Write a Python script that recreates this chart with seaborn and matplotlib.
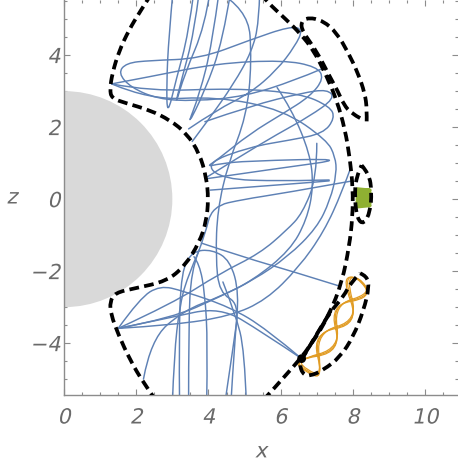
import matplotlib
matplotlib.use("Agg")
import matplotlib.pyplot as plt
import seaborn as sns
from matplotlib.path import Path
from matplotlib.patches import PathPatch, Circle
from matplotlib.patheffects import AbstractPathEffect
from matplotlib.transforms import Affine2D

# ---------------- data ----------------
earth_radius = 3.0

# zero-velocity boundaries (x, z)
inner_wall = [(2.42, 5.7), (2.1, 5.2), (1.8, 4.7), (1.52, 4.1), (1.34, 3.5), (1.27, 3.05),
              (1.32, 2.8), (1.7, 2.67), (2.38, 2.47), (2.94, 2.19), (3.40, 1.82), (3.75, 1.27),
              (3.94, 0.62), (4.0, 0.0), (3.94, -0.62), (3.75, -1.2), (3.35, -1.85), (2.84, -2.28),
              (1.95, -2.48), (1.42, -2.6), (1.27, -2.85), (1.3, -3.2), (1.5, -3.75), (1.83, -4.47),
              (2.2, -5.1), (2.55, -5.6)]
outer_wall = [(5.45, 5.7), (5.6, 5.5), (6.17, 4.97), (6.54, 4.6), (6.91, 4.14), (7.28, 3.40),
              (7.55, 2.75), (7.78, 1.95), (7.92, 1.1), (8.0, 0.3), (7.99, -0.5), (7.9, -1.3),
              (7.7, -2.3), (7.35, -3.2), (6.85, -4.05), (6.2, -4.84), (5.5, -5.6)]
upper_pocket = [(8.2, 2.25), (7.96, 2.38), (7.75, 2.62), (7.58, 3.0), (7.36, 3.4), (7.0, 4.1),
                (6.6, 4.66), (6.56, 4.92), (6.77, 5.05), (7.18, 4.95), (7.55, 4.62), (7.87, 4.07),
                (8.14, 3.5), (8.33, 2.94), (8.39, 2.5), (8.38, 2.1)]
lower_pocket = [(8.2, -2.06), (8.39, -2.14), (8.45, -2.44), (8.3, -3.08), (8.01, -3.82),
                (7.65, -4.38), (7.18, -4.75), (6.8, -4.92), (6.6, -4.85), (6.52, -4.56),
                (6.6, -4.42), (7.0, -3.75), (7.38, -3.12), (7.74, -2.71), (7.95, -2.3), (8.2, -2.06)]
equator_pocket = [(8.24, 0.94), (8.45, 0.7), (8.52, 0.2), (8.48, -0.35), (8.3, -0.7),
                  (8.12, -0.55), (8.05, 0.0), (8.08, 0.6), (8.24, 0.94)]
contact_x = [6.6, 7.38]
contact_z = [-4.42, -3.12]
start_x = [6.58]
start_z = [-4.43]

# trapped (blue) orbit, drawn as smooth strokes
blue_1 = [(3.02, 5.8), (2.9, 4.5), (2.84, 3.2), (2.86, 2.3), (3.1, 3.3), (3.45, 4.6), (3.6, 5.8)]
blue_2 = [(4.3, 5.8), (4.1, 4.3), (3.75, 2.9), (3.38, 1.95), (3.9, 3.0), (4.4, 4.4), (4.62, 5.8)]
blue_3 = [(3.75, 5.8), (3.6, 4.6), (3.25, 3.3), (3.05, 2.5), (3.35, 3.5), (3.9, 4.8), (4.05, 5.8)]
blue_4 = [(4.2, 5.8), (5.1, 5.3), (5.2, 3.8), (5.05, 2.3), (4.55, 1.0), (4.25, -0.3), (4.2, -1.6),
          (4.3, -2.6), (4.85, -2.9), (4.7, -4.0), (4.45, -5.7)]
blue_5 = [(3.45, 1.95), (4.23, 2.48), (5.15, 2.94), (5.89, 3.58), (6.4, 4.25), (6.62, 4.72),
          (6.26, 4.8), (5.15, 4.42), (3.77, 3.9), (2.38, 3.85), (1.72, 3.78), (1.5, 3.5),
          (1.85, 3.1), (2.6, 2.78), (3.6, 2.72), (5.0, 2.85), (6.4, 3.3), (7.1, 3.6)]
blue_6 = [(1.32, 3.2), (2.38, 3.4), (4.23, 3.77), (6.07, 3.86), (7.0, 3.68), (7.2, 3.35),
          (6.81, 2.85), (6.07, 2.38), (5.15, 1.82), (4.23, 1.08), (3.95, 0.9), (4.3, 0.98),
          (5.06, 1.06), (7.95, 1.13), (5.9, 0.85), (3.97, 0.57)]
blue_7 = [(1.32, 3.2), (2.38, 2.99), (4.69, 3.08), (6.54, 2.94), (7.37, 2.57), (7.5, 2.25),
          (7.18, 1.82), (6.26, 1.64), (5.15, 1.45), (3.9, 0.99), (4.4, 0.55), (6.0, 0.5),
          (7.95, 0.55), (6.0, 0.4), (4.05, 0.25)]
blue_8 = [(1.32, 3.2), (2.38, 2.75), (4.23, 2.85), (6.07, 2.48), (7.28, 1.64), (7.51, 1.18),
          (7.55, 0.72), (7.37, -0.03), (7.0, -0.8), (6.2, -1.6), (5.24, -2.25), (4.32, -2.71),
          (3.3, -3.1), (2.4, -3.9), (2.2, -5.0)]
blue_9 = [(5.9, 3.1), (6.3, 2.5), (6.81, 1.27), (6.91, 0.34), (6.72, -0.58), (6.26, -1.42),
          (5.24, -2.25), (4.32, -2.71), (3.0, -3.3), (1.5, -3.59)]
blue_10 = [(7.0, 1.55), (7.0, 0.6), (6.6, -0.4), (6.17, -0.86), (5.42, -1.51), (4.32, -2.06),
           (3.0, -2.9), (1.5, -3.59)]
blue_11 = [(3.97, 0.62), (4.9, 1.2), (5.9, 1.8), (6.8, 2.3), (7.5, 2.8), (7.3, 3.05), (6.6, 2.95),
           (5.2, 2.6), (3.9, 2.15)]
blue_12 = [(1.5, -3.59), (2.1, -2.75), (2.66, -2.4), (3.3, -2.55), (4.6, -3.0), (5.6, -3.6),
           (6.58, -4.43)]
blue_13 = [(3.8, -1.22), (5.0, -1.62), (6.3, -2.0), (7.58, -2.4)]
blue_14 = [(1.5, -3.59), (2.9, -3.3), (4.32, -2.99), (5.5, -3.7), (6.58, -4.43)]
blue_15 = [(1.5, -3.59), (3.0, -3.5), (4.6, -3.25), (5.6, -2.8), (6.5, -1.9), (7.2, -0.9),
           (7.7, 0.2), (7.95, 0.9)]
blue_16 = [(3.2, -5.7), (3.18, -3.8), (3.25, -2.0), (3.55, -1.45), (4.1, -1.4), (4.6, -1.7),
           (4.85, -2.6), (4.72, -4.0), (4.62, -5.7)]
blue_17 = [(3.45, -5.7), (3.45, -3.5), (3.52, -2.0), (3.9, -1.0), (4.1, -0.2), (5.0, 0.0),
           (6.0, 0.15), (7.95, 0.5)]
blue_18 = [(3.95, -5.7), (3.98, -4.0), (3.9, -2.6), (3.75, -1.8), (3.6, -1.6)]
blue_19 = [(3.0, -5.7), (3.05, -4.3), (3.2, -3.0), (3.4, -2.2), (3.75, -1.4)]
blue_20 = [(5.42, 5.8), (5.4, 4.9), (5.2, 4.1), (4.7, 3.2), (4.0, 2.2), (3.55, 1.6)]
blue_21 = [(5.05, -5.7), (5.0, -4.2), (4.75, -3.2), (4.4, -2.3)]

# particle trapped in the lower pocket (orange), three bounce cycles
orange_1 = [(6.935, -4.87), (7.17, -4.96), (6.91, -3.70), (8.17, -3.43), (7.75, -2.19),
            (8.15, -2.15), (8.53, -2.69), (7.39, -2.93), (7.69, -4.20), (6.39, -4.46),
            (6.70, -4.78), (6.935, -4.87)]
orange_2 = [(6.94, -4.83), (7.14, -4.90), (6.98, -3.70), (8.14, -3.37), (7.82, -2.19),
            (8.18, -2.17), (8.50, -2.63), (7.46, -2.93), (7.66, -4.14), (6.46, -4.46),
            (6.74, -4.76), (6.94, -4.83)]
orange_3 = [(6.93, -4.9), (7.18, -5.0), (6.86, -3.71), (8.18, -3.48), (7.70, -2.20),
            (8.12, -2.14), (8.54, -2.74), (7.34, -2.94), (7.70, -4.25), (6.34, -4.47),
            (6.68, -4.8), (6.93, -4.9)]

# particle trapped at the equatorial pocket (green)
green_x = [8.12, 8.47, 8.12, 8.47, 8.12, 8.47, 8.12, 8.47, 8.12, 8.47, 8.12, 8.47, 8.12, 8.47, 8.12]
green_z = [0.28, 0.245, 0.21, 0.175, 0.14, 0.105, 0.07, 0.035, 0.0, -0.035, -0.07, -0.105,
           -0.14, -0.175, -0.21]

x_major = [0, 2, 4, 6, 8, 10]
z_major = [-4, -2, 0, 2, 4]

BLUE = "#5E81B5"
ORANGE = "#E19C24"
GREEN = "#8FB032"
AXIS_GRAY = "#8c8c8c"
TEXT_GRAY = "#6a6a6a"


class Slant(AbstractPathEffect):
    """Shear glyph outlines to give an oblique face."""

    def __init__(self, angle=12):
        super().__init__()
        self.angle = angle

    def draw_path(self, renderer, gc, tpath, affine, rgbFace=None):
        renderer.draw_path(gc, tpath, Affine2D().skew_deg(self.angle, 0) + affine, rgbFace)


# ---------------- style ----------------
sns.set_theme(style="ticks")
plt.rcParams["font.family"] = ["DejaVu Sans"]
text_style = dict(fontsize=15, color=TEXT_GRAY, path_effects=[Slant(12)])


def smooth_path(points):
    """Quadratic B-spline style path through the midpoints of the control polygon."""
    n = len(points)
    verts = [points[0]]
    codes = [Path.MOVETO]
    if n == 2:
        verts.append(points[1])
        codes.append(Path.LINETO)
    for i in range(1, n - 1):
        if i == n - 2:
            end = points[i + 1]
        else:
            end = ((points[i][0] + points[i + 1][0]) / 2, (points[i][1] + points[i + 1][1]) / 2)
        verts += [points[i], end]
        codes += [Path.CURVE3, Path.CURVE3]
    return Path(verts, codes)


fig = plt.figure(figsize=(4.58, 4.65), dpi=100)
ax = fig.add_axes([64 / 458, 70 / 465, 394 / 458, 395 / 465])

ax.add_patch(Circle((0, 0), earth_radius, facecolor="#d9d9d9", edgecolor="none", zorder=1))

for stroke in [blue_1, blue_2, blue_3, blue_4, blue_5, blue_6, blue_7, blue_8, blue_9, blue_10,
               blue_11, blue_12, blue_13, blue_14, blue_15, blue_16, blue_17, blue_18, blue_19,
               blue_20, blue_21]:
    ax.add_patch(PathPatch(smooth_path(stroke), fill=False, edgecolor=BLUE, lw=1.05,
                           capstyle="round", joinstyle="round", zorder=2))

for stroke in [orange_1, orange_2, orange_3]:
    ax.add_patch(PathPatch(smooth_path(stroke), fill=False, edgecolor=ORANGE, lw=0.9, zorder=2))

sns.lineplot(x=green_x, y=green_z, sort=False, estimator=None, color=GREEN, lw=2.6, ax=ax,
             zorder=2)

for wall in [inner_wall, outer_wall, upper_pocket, lower_pocket, equator_pocket]:
    ax.add_patch(PathPatch(smooth_path(wall), fill=False, edgecolor="black", lw=2.7,
                           linestyle=(0, (2.6, 1.4)), zorder=3))

sns.lineplot(x=contact_x, y=contact_z, sort=False, estimator=None, color="black", lw=2.4, ax=ax,
             zorder=4)
sns.scatterplot(x=start_x, y=start_z, color="black", s=40, edgecolor="none", ax=ax, zorder=5)

# ---------------- axes ----------------
ax.set_xlim(0, 10.91)
ax.set_ylim(-5.44, 5.53)
ax.set_xticks(x_major)
ax.set_yticks(z_major)
ax.set_xticks([v / 2 for v in range(0, 22)], minor=True)
ax.set_yticks([v / 2 for v in range(-10, 12)], minor=True)
ax.set_xticklabels([str(v) for v in x_major], **text_style)
ax.set_yticklabels([("\u2212" + str(-v)) if v < 0 else str(v) for v in z_major], **text_style)

for side in ["top", "right"]:
    ax.spines[side].set_visible(False)
for side in ["left", "bottom"]:
    ax.spines[side].set_color(AXIS_GRAY)
    ax.spines[side].set_linewidth(1.0)

ax.tick_params(which="both", direction="in", color=AXIS_GRAY, width=0.8,
               top=True, right=True, labeltop=False, labelright=False)
ax.tick_params(which="major", length=4)
ax.tick_params(which="minor", length=2.2)
ax.tick_params(axis="x", which="major", pad=9)
ax.tick_params(axis="y", which="major", pad=2.5)

ax.set_xlabel("x", labelpad=10, **text_style)
ax.set_ylabel("z", rotation=0, va="center", ha="center", **text_style)
ax.yaxis.set_label_coords(-0.132, 0.5)
ax.grid(False)
ax.set_facecolor("white")

fig.savefig("out.png", dpi=100)
